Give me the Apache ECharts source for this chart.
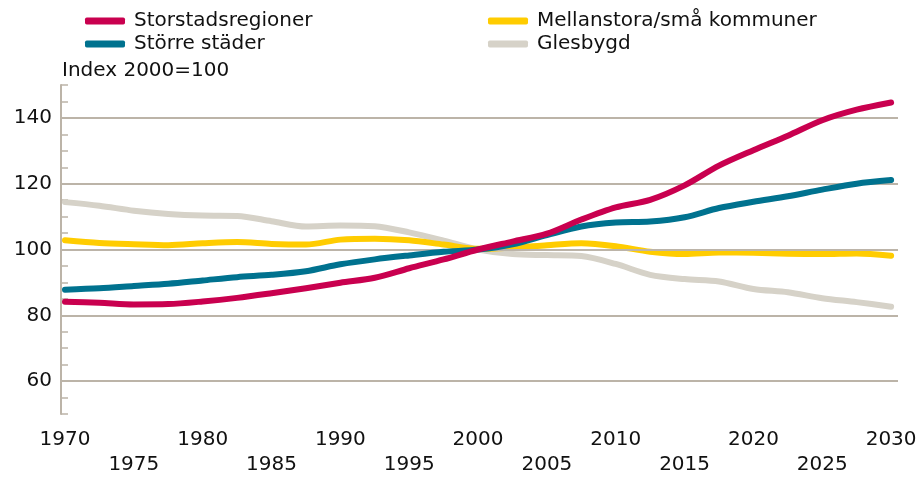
<!DOCTYPE html>
<html>
<head>
<meta charset="utf-8">
<script src="https://cdn.jsdelivr.net/npm/echarts@6/dist/echarts.min.js"></script>
<style>
  html, body { margin: 0; padding: 0; background: #fff; }
  #chart { width: 924px; height: 477px; }
</style>
</head>
<body>
<div id="chart"></div>
<script>
// years (every 2.5 years)
var years = [1970, 1972.5, 1975, 1977.5, 1980, 1982.5, 1985, 1987.5, 1990, 1992.5, 1995, 1997.5,
             2000, 2002.5, 2005, 2007.5, 2010, 2012.5, 2015, 2017.5, 2020, 2022.5, 2025, 2027.5, 2030];

var storstad = [84.1, 83.8, 83.3, 83.4, 84.2, 85.3, 86.7, 88.2, 89.9, 91.4, 94.3, 97.0,
                100, 102.4, 104.8, 109.1, 112.8, 115.1, 119.5, 125.5, 130.2, 134.6, 139.3, 142.5, 144.7];
var storre = [87.8, 88.2, 88.9, 89.6, 90.6, 91.6, 92.3, 93.4, 95.5, 97.0, 98.2, 99.3,
              100, 101.6, 104.4, 107.0, 108.2, 108.5, 109.8, 112.6, 114.5, 116.2, 118.2, 120.0, 121.1];
var mellan = [102.8, 102.0, 101.6, 101.3, 101.9, 102.3, 101.7, 101.5, 103.0, 103.3, 102.8, 101.5,
              100.2, 100.6, 101.3, 101.9, 101.0, 99.3, 98.6, 99.1, 99.0, 98.7, 98.6, 98.8, 98.1];
var gles = [114.4, 113.3, 111.8, 110.8, 110.3, 110.2, 108.6, 107.0, 107.3, 107.1, 105.2, 102.7,
            100, 98.6, 98.3, 98.0, 95.6, 92.3, 91.0, 90.3, 88.0, 87.0, 85.2, 84.0, 82.6];

var xTicks = [1970, 1975, 1980, 1985, 1990, 1995, 2000, 2005, 2010, 2015, 2020, 2025, 2030];
var yLabels = [60, 80, 100, 120, 140];

var font = 'DejaVu Sans';
var gridColor = '#bcb4a8';

function pairs(vals) {
    return years.map(function (y, i) { return [y, vals[i]]; });
}

function lineSeries(name, vals, color, z) {
    return {
        name: name,
        type: 'line',
        data: pairs(vals),
        smooth: 0.3,
        symbol: 'none',
        z: z,
        lineStyle: { color: color, width: 6, cap: 'round', join: 'round' },
        itemStyle: { color: color }
    };
}

var legendBase = {
    orient: 'vertical',
    top: 11,
    padding: 0,
    icon: 'roundRect',
    itemWidth: 40,
    itemHeight: 7,
    itemGap: 3,
    textStyle: { fontFamily: font, fontSize: 20, lineHeight: 20, color: '#111', padding: [0, 0, 0, 4] }
};

var myChart = echarts.init(document.getElementById('chart'));
var option = {
    animation: false,
    title: {
        text: 'Index 2000=100',
        left: 62,
        top: 61,
        padding: 0,
        textStyle: { fontFamily: font, fontSize: 20, fontWeight: 'normal', color: '#111' }
    },
    legend: [
        Object.assign({}, legendBase, { left: 85, data: ['Storstadsregioner', 'Större städer'] }),
        Object.assign({}, legendBase, { left: 488, data: ['Mellanstora/små kommuner', 'Glesbygd'] })
    ],
    grid: { left: 61, right: 26, top: 85, bottom: 57, containLabel: false },
    xAxis: {
        type: 'value',
        min: 1969.71,
        max: 2030.5,
        axisLine: { show: false },
        axisTick: { show: false },
        splitLine: { show: false },
        axisLabel: {
            customValues: xTicks,
            margin: 13,
            fontFamily: font,
            fontSize: 20,
            lineHeight: 25,
            color: '#111',
            formatter: function (v) {
                return v % 10 === 0 ? String(v) : '\n' + v;
            }
        }
    },
    yAxis: {
        type: 'value',
        min: 50,
        max: 150,
        interval: 5,
        axisLine: { show: true, lineStyle: { color: gridColor, width: 2 } },
        axisTick: { show: true, inside: true, length: 7, lineStyle: { color: gridColor, width: 1.5 } },
        splitLine: { show: false },
        axisLabel: {
            margin: 9,
            fontFamily: font,
            fontSize: 20,
            color: '#111',
            formatter: function (v) {
                return yLabels.indexOf(v) >= 0 ? String(v) : '';
            }
        }
    },
    series: [
        {
            // horizontal gridlines
            type: 'line',
            data: [],
            z: 1,
            markLine: {
                silent: true,
                symbol: 'none',
                label: { show: false },
                lineStyle: { color: gridColor, width: 2, type: 'solid' },
                data: yLabels.map(function (v) { return { yAxis: v }; })
            }
        },
        lineSeries('Storstadsregioner', storstad, '#c9004f', 6),
        lineSeries('Större städer', storre, '#00728f', 5),
        lineSeries('Mellanstora/små kommuner', mellan, '#ffcc00', 4),
        lineSeries('Glesbygd', gles, '#d6d2c8', 3)
    ]
};
myChart.setOption(option);
</script>
</body>
</html>
